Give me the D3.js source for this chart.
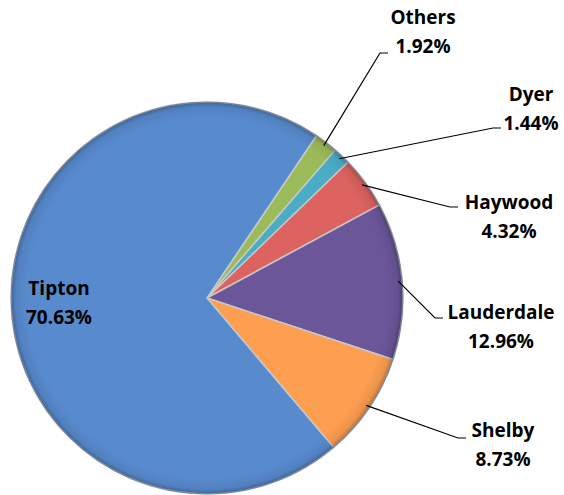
<!DOCTYPE html>
<html>
<head>
<meta charset="utf-8">
<script src="https://cdn.jsdelivr.net/npm/d3@7"></script>
<style>
  body { margin: 0; background: #fff; }
  svg text { font-family: "Open Sans", "Liberation Sans", sans-serif; font-weight: bold; font-size: 19px; fill: #000; }
</style>
</head>
<body>
<div id="chart"></div>
<script>
const width = 564;
const height = 495;

// data, clockwise from the Others slice
const counties = ['Others', 'Dyer', 'Haywood', 'Lauderdale', 'Shelby', 'Tipton'];
const shares = [1.92, 1.44, 4.32, 12.96, 8.73, 70.63];
const labels = ['1.92%', '1.44%', '4.32%', '12.96%', '8.73%', '70.63%'];
const colors = ['#9bbb59', '#4bacc6', '#dc6360', '#6b569a', '#fd9e50', '#588ace'];

// label layout (name line centre)
const labelPos = [[423, 24], [531, 101], [509, 209], [501, 319], [503, 437], [59, 295]];
const elbow = [[380, 53], [493, 128], [450, 207], [435, 318], [458, 438], null];

const cx = 207, cy = 298, r = 196;

const svg = d3.select('#chart')
  .append('svg')
  .attr('width', width)
  .attr('height', height);

const defs = svg.append('defs');
const rim = defs.append('radialGradient')
  .attr('id', 'rim')
  .attr('gradientUnits', 'userSpaceOnUse')
  .attr('cx', 0).attr('cy', 0).attr('r', r);
rim.append('stop').attr('offset', '0.92').attr('stop-color', '#000').attr('stop-opacity', 0);
rim.append('stop').attr('offset', '0.975').attr('stop-color', '#000').attr('stop-opacity', 0.07);
rim.append('stop').attr('offset', '1').attr('stop-color', '#000').attr('stop-opacity', 0.28);

const pie = d3.pie()
  .sort(null)
  .value(d => d)
  .startAngle(34 * Math.PI / 180)
  .endAngle(34 * Math.PI / 180 + 2 * Math.PI);

const arcs = pie(shares);
const arc = d3.arc().innerRadius(0).outerRadius(r);
const edgeArc = d3.arc().innerRadius(r - 4).outerRadius(r - 4);

const g = svg.append('g')
  .attr('transform', 'translate(' + cx + ',' + cy + ')');

g.selectAll('path.slice')
  .data(arcs)
  .enter()
  .append('path')
  .attr('class', 'slice')
  .attr('d', arc)
  .attr('fill', (d, i) => colors[i])
  .attr('stroke', '#c8c8c8')
  .attr('stroke-width', 1.5)
  .attr('stroke-linejoin', 'round');

g.append('circle')
  .attr('r', r)
  .attr('fill', 'url(#rim)')
  .attr('stroke', '#6b7f95')
  .attr('stroke-width', 0.8);

// leader lines
arcs.forEach(function(d, i) {
  if (!elbow[i]) return;
  const p = edgeArc.centroid(d);
  const x0 = cx + p[0], y0 = cy + p[1];
  const e = elbow[i];
  svg.append('polyline')
    .attr('points', [[x0, y0], e, [e[0] + 8, e[1]]].map(q => q.join(',')).join(' '))
    .attr('fill', 'none')
    .attr('stroke', '#000')
    .attr('stroke-width', 1.2);
});

// labels
const lab = svg.selectAll('g.label')
  .data(counties)
  .enter()
  .append('g')
  .attr('class', 'label')
  .attr('transform', (d, i) => 'translate(' + labelPos[i][0] + ',' + labelPos[i][1] + ')');

lab.append('text')
  .attr('text-anchor', 'middle')
  .attr('y', 0)
  .text(d => d);

lab.append('text')
  .attr('text-anchor', 'middle')
  .attr('y', 29)
  .text((d, i) => labels[i]);
</script>
</body>
</html>
